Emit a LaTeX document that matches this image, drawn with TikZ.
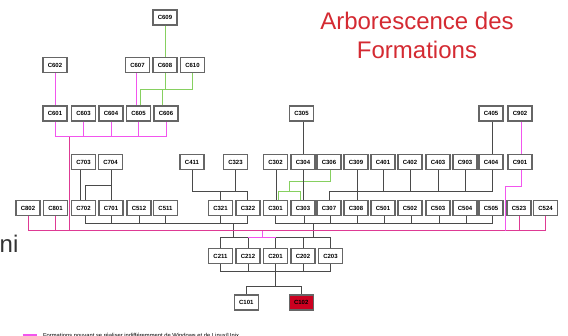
\documentclass[tikz,border=0pt]{standalone}
\usepackage{fontspec}
\setmainfont{Liberation Sans}
\definecolor{lineGray}{HTML}{4A4A4A}
\definecolor{lineGreen}{HTML}{86D060}
\definecolor{pinkMain}{HTML}{DE3A94}
\definecolor{pinkLight}{HTML}{F255EE}
\definecolor{titleRed}{HTML}{D42A32}
\definecolor{boxRed}{HTML}{CC0020}
\definecolor{boxEdge}{HTML}{666666}
\begin{document}
\begin{tikzpicture}[x=1pt,y=-1pt,
  box/.style={draw=boxEdge,line width=1.1pt,fill=white,minimum width=24pt,minimum height=15pt,inner sep=0pt,font=\fontsize{6}{7}\selectfont\bfseries},
  gl/.style={draw=lineGray,line width=0.8pt},
  grn/.style={draw=lineGreen,line width=0.9pt},
  pk/.style={draw=pinkMain,line width=1pt},
  lpk/.style={draw=pinkLight,line width=1pt}]
\useasboundingbox (0,0) rectangle (568,336);
% title and texts
\node[anchor=base,text=titleRed,font=\fontsize{24}{28}\selectfont] (title1) at (417,29.2) {Arborescence des};
\node[anchor=base,text=titleRed,font=\fontsize{24}{28}\selectfont] (title2) at (417,58.9) {Formations};
\node[anchor=base west,inner sep=0pt,text=black!80,font=\fontsize{24}{28}\selectfont] (ni) at (-0.5,252.5) {ni};
% boxes
\node[box] (c609) at (165,17.5) {C609};
\node[box] (c602) at (55,65) {C602};
\node[box] (c607) at (137.5,65) {C607};
\node[box] (c608) at (165,65) {C608};
\node[box] (c610) at (192.5,65) {C610};
\node[box] (c601) at (55,113.5) {C601};
\node[box] (c603) at (83.5,113.5) {C603};
\node[box] (c604) at (111,113.5) {C604};
\node[box] (c605) at (138.5,113.5) {C605};
\node[box] (c606) at (166,113.5) {C606};
\node[box] (c305) at (301.5,113.5) {C305};
\node[box] (c405) at (491,113.5) {C405};
\node[box] (c902) at (520,113.5) {C902};
\node[box] (c703) at (83.5,162) {C703};
\node[box] (c704) at (110.5,162) {C704};
\node[box] (c411) at (192,162) {C411};
\node[box] (c323) at (235.5,162) {C323};
\node[box] (c302) at (275.5,162) {C302};
\node[box] (c304) at (303,162) {C304};
\node[box] (c306) at (329,162) {C306};
\node[box] (c309) at (356,162) {C309};
\node[box] (c401) at (383,162) {C401};
\node[box] (c402) at (410,162) {C402};
\node[box] (c403) at (438,162) {C403};
\node[box] (c903) at (465,162) {C903};
\node[box] (c404) at (491,162) {C404};
\node[box] (c901) at (520,162) {C901};
\node[box] (c802) at (28,208) {C802};
\node[box] (c801) at (55.5,208) {C801};
\node[box] (c702) at (83.5,208) {C702};
\node[box] (c701) at (111,208) {C701};
\node[box] (c512) at (139,208) {C512};
\node[box] (c511) at (165.5,208) {C511};
\node[box] (c321) at (220.5,208) {C321};
\node[box] (c322) at (248,208) {C322};
\node[box] (c301) at (275.5,208) {C301};
\node[box] (c303) at (303,208) {C303};
\node[box] (c307) at (329,208) {C307};
\node[box] (c308) at (356,208) {C308};
\node[box] (c501) at (383,208) {C501};
\node[box] (c502) at (410,208) {C502};
\node[box] (c503) at (438,208) {C503};
\node[box] (c504) at (465,208) {C504};
\node[box] (c505) at (491,208) {C505};
\node[box] (c523) at (519,208) {C523};
\node[box] (c524) at (545.5,208) {C524};
\node[box] (c211) at (220.5,256) {C211};
\node[box] (c212) at (248,256) {C212};
\node[box] (c201) at (275.5,256) {C201};
\node[box] (c202) at (303,256) {C202};
\node[box] (c203) at (330.5,256) {C203};
\node[box] (c101) at (246.3,302.5) {C101};
\node[box,fill=boxRed] (c102) at (301.2,302.5) {C102};
% bus levels
\coordinate (gA) at (0,89);
\coordinate (gB) at (0,181);
\coordinate (gC) at (0,191);
\coordinate (gD) at (0,185);
\coordinate (bD) at (0,223.5);
\coordinate (t2) at (0,237.7);
\coordinate (b2) at (0,271.7);
\coordinate (b1) at (0,286.7);
\coordinate (pB) at (0,231);
\coordinate (pG) at (0,137);
\coordinate (pR) at (0,186.7);
% green links
\draw[grn] (c609.south) -- (c608.north);
\draw[grn] (c608.south) -- (c608.south |- gA);
\draw[grn] ([xshift=1.5pt]c605.north) |- (c610.south |- gA) -- (c610.south);
\draw[grn] ([xshift=-4pt]c606.north) -- ([xshift=-4pt]c606.north |- gA);
\draw[grn] ([xshift=1.5pt]c306.south) |- ([xshift=-14pt]c303.north |- gB) -- ([xshift=-14pt]c303.north |- gC);
\draw[grn] ([xshift=2.5pt]c301.north) |- ([xshift=-2.3pt]c303.north |- gC) -- ([xshift=-2.3pt]c303.north);
% gray links
\draw[gl] (c304.north |- c305.south) -- (c304.north);
\draw[gl] (c304.south) -- (c303.north);
\draw[gl] ([xshift=1pt]c301.north |- c302.south) -- ([xshift=1pt]c301.north);
\draw[gl] ([xshift=1.5pt]c405.south) -- ([xshift=1.5pt]c404.north);
\draw[gl] ([xshift=1.5pt]c309.south) -- ([xshift=1.5pt]c308.north);
\foreach \n in {c401,c402,c403,c903} \draw[gl] (\n.south) -- (\n.south |- gC);
\draw[gl] (c307.north) |- ([xshift=1.5pt]c404.south |- gC) -- ([xshift=1.5pt]c404.south);
\draw[gl] (c411.south) |- ([xshift=-1pt]c322.north |- gC) -- ([xshift=-1pt]c322.north);
\draw[gl] (c323.south) -- (c323.south |- gC);
\draw[gl] (c321.north |- gC) -- (c321.north);
\draw[gl] ([xshift=-3pt]c703.south) -- ([xshift=-3pt]c702.north);
\draw[gl] (c701.north |- c704.south) -- (c701.north);
\draw[gl] (c701.north |- gD) -| ([xshift=1.5pt]c702.north);
\draw[gl] ([xshift=1.5pt]c702.south) |- ([xshift=-1pt]c322.south |- bD) -- ([xshift=-1pt]c322.south);
\foreach \n in {c701,c512,c511,c321} \draw[gl] (\n.south) -- (\n.south |- bD);
\draw[gl] (c301.south) |- ([xshift=1.5pt]c505.south |- bD) -- ([xshift=1.5pt]c505.south);
\foreach \n in {c303,c307,c308,c501,c502,c503,c504} \draw[gl] ([xshift=1pt]\n.south) -- ([xshift=1pt]\n.south |- bD);
\draw[gl] ([xshift=-15pt]c212.north |- bD) -- ([xshift=-15pt]c212.north |- t2);
\draw[gl] ([xshift=10pt]c202.north |- bD) -- ([xshift=10pt]c202.north |- t2);
\draw[gl] (c211.north) |- (c212.north |- t2) -- (c212.north);
\draw[gl] (c201.north) |- (c203.north |- t2) -- (c203.north);
\draw[gl] (c202.north |- t2) -- (c202.north);
\draw[gl] (c211.south) |- (c203.south |- b2) -- (c203.south);
\foreach \n in {c212,c201,c202} \draw[gl] (\n.south) -- (\n.south |- b2);
\draw[gl] (c201.south |- b2) -- (c201.south |- b1);
\draw[gl] (c101.north) |- (c102.north |- b1) -- (c102.north);
% pink links
\draw[pk] (c802.south) |- (c524.south |- pB) -- (c524.south);
\draw[pk] (c801.south) -- (c801.south |- pB);
\draw[pk] (c523.south) -- (c523.south |- pB);
\draw[pk] ([xshift=14pt]c601.south |- pG) -- ([xshift=14pt]c601.south |- pB);
\draw[lpk] (c602.south) -- (c601.north);
\draw[lpk] (c601.south) |- (c606.south |- pG) -- (c606.south);
\foreach \n in {c603,c604,c605} \draw[lpk] (\n.south) -- (\n.south |- pG);
\draw[lpk] ([xshift=-2pt]c605.north |- c607.south) -- ([xshift=-2pt]c605.north);
\draw[lpk] ([xshift=1pt]c901.north |- c902.south) -- ([xshift=1pt]c901.north);
\draw[lpk] ([xshift=1pt]c901.south) |- ([xshift=-13.5pt]c523.south |- pR) -- ([xshift=-13.5pt]c523.south |- pB);
\draw[lpk] ([xshift=-13pt]c201.north |- pB) -- ([xshift=-13pt]c201.north |- t2);
\draw[lpk] (c212.north |- t2) -- (c201.north |- t2);
% legend
\coordinate (lg1) at (22.7,334.8);
\coordinate (lg2) at (36.7,334.8);
\draw[lpk,line width=1.8pt] (lg1) -- (lg2);
\node[anchor=base west,inner sep=0pt,font=\fontsize{5.8}{6}\selectfont] (legend) at (43,337.6) {Formations pouvant se réaliser indifféremment de Windows et de Linux/Unix};
\end{tikzpicture}
\end{document}
